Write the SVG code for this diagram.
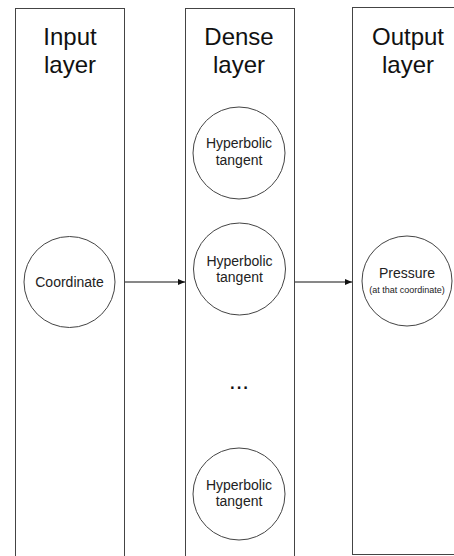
<svg xmlns="http://www.w3.org/2000/svg" width="454" height="556" viewBox="0 0 454 556">
<style>
.box{fill:#fff;stroke:#444;stroke-width:1}
.node{fill:#fff;stroke:#444;stroke-width:1}
.title{font-family:"Liberation Sans",Arial,sans-serif;font-size:24px;fill:#111;text-anchor:middle}
.lbl{font-family:"Liberation Sans",Arial,sans-serif;font-size:14px;fill:#222;text-anchor:middle}
.small{font-family:"Liberation Sans",Arial,sans-serif;font-size:9px;fill:#222;text-anchor:middle}
.edge{stroke:#111;stroke-width:1;fill:none}
</style>
<defs>
<marker id="arr" markerWidth="8" markerHeight="8" refX="7" refY="4" orient="auto" markerUnits="userSpaceOnUse">
<path d="M0,1 L7,4 L0,7 Z" fill="#111"/>
</marker>
</defs>
<rect width="454" height="556" fill="#fff"/>
<g id="input-layer">
<rect class="box" x="15.5" y="8.5" width="109" height="548"/>
<text class="title" x="70" y="45">Input</text>
<text class="title" x="70" y="73">layer</text>
</g>
<g id="dense-layer">
<rect class="box" x="185.5" y="8.5" width="109" height="548"/>
<text class="title" x="239" y="45">Dense</text>
<text class="title" x="239" y="73">layer</text>
</g>
<g id="output-layer">
<rect class="box" x="352.5" y="7.5" width="120" height="547"/>
<text class="title" x="408" y="45">Output</text>
<text class="title" x="408" y="73">layer</text>
</g>
<g id="coordinate">
<circle class="node" cx="69.5" cy="282" r="45.5"/>
<text class="lbl" x="69.5" y="287">Coordinate</text>
</g>
<g id="tanh-1">
<circle class="node" cx="239" cy="153" r="46"/>
<text class="lbl" x="239" y="148">Hyperbolic</text>
<text class="lbl" x="239" y="165">tangent</text>
</g>
<g id="tanh-2">
<circle class="node" cx="239.5" cy="269" r="46"/>
<text class="lbl" x="239.5" y="266">Hyperbolic</text>
<text class="lbl" x="239.5" y="282">tangent</text>
</g>
<g id="ellipsis">
<text class="title" x="239" y="389">...</text>
</g>
<g id="tanh-3">
<circle class="node" cx="239" cy="494" r="46"/>
<text class="lbl" x="239" y="490">Hyperbolic</text>
<text class="lbl" x="239" y="506">tangent</text>
</g>
<g id="pressure">
<circle class="node" cx="407" cy="281" r="45"/>
<text class="lbl" x="407" y="278">Pressure</text>
<text class="small" x="407" y="293">(at that coordinate)</text>
</g>
<g id="connectors">
<line class="edge" x1="125" y1="282" x2="185" y2="282" marker-end="url(#arr)"/>
<line class="edge" x1="295" y1="282" x2="352" y2="282" marker-end="url(#arr)"/>
</g>
</svg>
